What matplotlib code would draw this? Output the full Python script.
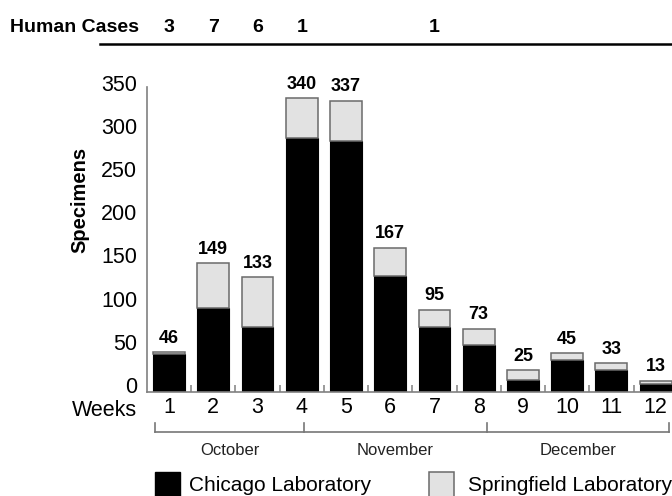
import matplotlib
matplotlib.use('Agg')
import matplotlib.pyplot as plt
from matplotlib.transforms import ScaledTranslation, blended_transform_factory
from matplotlib.patches import Rectangle
from matplotlib.lines import Line2D

plt.rcParams['font.family'] = ['Liberation Sans', 'DejaVu Sans']

# ---- data ----
weeks = [1, 2, 3, 4, 5, 6, 7, 8, 9, 10, 11, 12]
chicago = [44, 97, 75, 294, 290, 134, 75, 54, 14, 37, 25, 9]
springfield = [2, 52, 58, 46, 47, 33, 20, 19, 11, 8, 8, 4]
totals = [46, 149, 133, 340, 337, 167, 95, 73, 25, 45, 33, 13]
case_weeks = [1, 2, 3, 4, 7]
case_counts = [3, 7, 6, 1, 1]
months = ['October', 'November', 'December']
month_edges = [0.68, 4.05, 8.19, 12.3]
yticks = [0, 50, 100, 150, 200, 250, 300, 350]

W, H = 672, 496
fig = plt.figure(figsize=(W / 100, H / 100), dpi=100)


def fx(px):
    return px / W


def fy(py):
    return 1 - py / H


ax = fig.add_axes([fx(147), fy(392), fx(672) - fx(147), fy(87) - fy(392)])
ax.bar(weeks, chicago, width=0.72, color='black', edgecolor='black', linewidth=0.8)
ax.bar(weeks, springfield, bottom=chicago, width=0.72, color='#e2e2e2',
       edgecolor='#6a6a6a', linewidth=1.1)

for w, t in zip(weeks, totals):
    ax.annotate(str(t), (w, t), xytext=(0, 4), textcoords='offset points',
                ha='center', va='bottom', fontsize=13, fontweight='bold')

ax.set_xlim(0.5, 12.37)
ax.set_ylim(0, 353)
for s in ['top', 'right']:
    ax.spines[s].set_visible(False)
for s in ['left', 'bottom']:
    ax.spines[s].set_color('#808080')
    ax.spines[s].set_linewidth(1.2)

ax.set_yticks(yticks)
ax.set_yticklabels([str(v) for v in yticks])
ax.tick_params(axis='y', length=0, pad=7, labelsize=15.5)
off = ScaledTranslation(0, 0.07, fig.dpi_scale_trans)
for lbl in ax.get_yticklabels():
    lbl.set_transform(lbl.get_transform() + off)

ax.set_xticks(weeks)
ax.set_xticklabels([str(w) for w in weeks])
ax.set_xticks([w + 0.5 for w in weeks[:-1]], minor=True)
ax.tick_params(axis='x', which='major', length=0, pad=3.5, labelsize=15.5)
ax.tick_params(axis='x', which='minor', direction='in', length=5, width=1.1,
               color='#808080')

fig.text(fx(137), fy(416), 'Weeks', ha='right', va='baseline', fontsize=15.5)
fig.text(fx(80), fy(200), 'Specimens', rotation=90, ha='center', va='center',
         fontsize=14.5, fontweight='bold')

# human cases row
fig.text(fx(10), fy(32), 'Human Cases', ha='left', va='baseline',
         fontsize=14, fontweight='bold')
tr = blended_transform_factory(ax.transData, fig.transFigure)
for w, c in zip(case_weeks, case_counts):
    ax.text(w, fy(32), str(c), transform=tr, ha='center', va='baseline',
            fontsize=14, fontweight='bold')
fig.add_artist(Line2D([fx(100), 1.0], [fy(43.5), fy(43.5)], color='black', lw=1.8))

# month bracket
yl = -(432 - 392) / 0.864
yt = yl + 9 / 0.864
ax.plot([month_edges[0], month_edges[-1]], [yl, yl], color='#777777', lw=1.2,
        clip_on=False)
for e in month_edges:
    ax.plot([e, e], [yl, yt], color='#777777', lw=1.2, clip_on=False)
ym = -(455 - 392) / 0.864
for m, a, b in zip(months, month_edges[:-1], month_edges[1:]):
    ax.text((a + b) / 2, ym, m, ha='center', va='baseline', fontsize=12,
            color='#222222', clip_on=False)

# legend
fig.add_artist(Rectangle((fx(155), fy(498)), 25 / W, 26 / H, facecolor='black',
                         edgecolor='black', transform=fig.transFigure))
fig.text(fx(189), fy(491), 'Chicago Laboratory', ha='left', va='baseline', fontsize=15)
fig.add_artist(Rectangle((fx(429), fy(498)), 25 / W, 26 / H, facecolor='#e2e2e2',
                         edgecolor='#6a6a6a', lw=1.1, transform=fig.transFigure))
fig.text(fx(468), fy(491), 'Springfield Laboratory', ha='left', va='baseline', fontsize=15)

fig.savefig('out.png', dpi=100)
